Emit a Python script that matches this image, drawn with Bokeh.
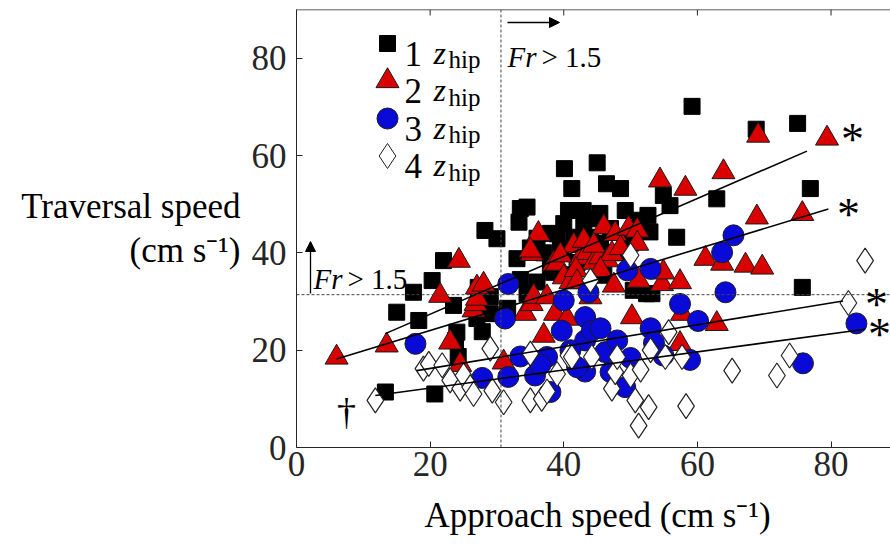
from bokeh.plotting import figure
from bokeh.models import (Range1d, LinearAxis, FixedTicker, Label, Arrow, NormalHead, Span, Title)
from bokeh.embed import file_html
from bokeh.resources import INLINE

# ---------------- data ----------------
black_x = [13.3, 20.7, 15.0, 17.5, 18.3, 20.3, 22.0, 23.5, 24.0, 23.8, 24.2, 27.0, 27.8, 27.2, 29.0,
           29.0, 31.6, 28.2, 30.0, 33.0, 33.5, 34.5, 33.3, 33.5, 34.5, 36.0, 37.0, 38.0, 39.0, 39.5,
           40.1, 41.2, 40.7, 41.5, 42.9, 43.0, 44.0, 45.0, 45.4, 46.4, 46.0, 47.0, 48.5, 49.2, 48.0,
           50.4, 51.4, 52.6, 52.9, 53.2, 54.9, 55.9, 56.9, 59.2, 62.9, 68.8, 75.0, 76.9, 75.7, 36.0,
           38.0, 42.0, 44.0, 35.0, 40.0, 38.5, 41.0, 44.0, 45.5, 50.0, 52.4]
black_y = [11.4, 11.0, 27.8, 31.9, 26.1, 34.3, 38.4, 29.2, 23.7, 22.0, 18.7, 26.5, 23.8, 32.9, 31.0,
           27.5, 28.6, 44.6, 42.9, 38.8, 34.5, 31.6, 46.3, 49.1, 49.4, 43.0, 40.0, 44.0, 43.9, 41.0,
           57.3, 53.2, 48.7, 43.2, 48.7, 46.0, 43.2, 58.5, 48.1, 54.2, 35.4, 45.0, 53.2, 48.7, 40.0,
           32.3, 46.7, 47.7, 44.3, 31.6, 51.8, 49.7, 43.2, 70.1, 51.1, 65.4, 66.6, 53.2, 32.9, 34.0,
           37.0, 38.0, 40.0, 41.0, 46.0, 36.0, 35.5, 47.0, 42.0, 42.0, 31.6]

red_x = [6.0, 13.5, 21.5, 23.0, 24.3, 24.5, 26.5, 26.8, 27.0, 27.0, 28.0, 31.0, 34.2, 35.2, 35.5,
         35.2, 36.2, 35.0, 37.0, 37.5, 38.5, 38.7, 39.0, 40.0, 40.5, 41.0, 41.5, 42.5, 43.5, 44.0,
         44.5, 45.4, 46.0, 46.5, 47.2, 47.5, 47.7, 48.5, 49.7, 50.2, 51.0, 51.0, 51.2, 54.4, 54.7,
         54.9, 57.4, 57.4, 57.7, 58.2, 61.2, 62.9, 63.7, 63.9, 67.2, 68.9, 69.1, 69.7, 75.7, 79.4,
         41.8, 43.0, 44.5, 39.5, 42.0, 45.5]
red_y = [18.5, 21.0, 31.2, 21.6, 38.4, 17.0, 28.2, 29.5, 30.6, 32.9, 33.5, 17.5, 27.5, 29.5, 31.0,
         39.8, 43.9, 40.5, 23.0, 30.9, 37.8, 27.5, 37.8, 35.0, 26.5, 34.0, 41.5, 39.0, 40.0, 30.9,
         38.0, 39.1, 45.3, 38.5, 39.8, 33.3, 43.9, 41.0, 45.0, 26.8, 44.6, 41.9, 34.3, 54.9, 33.6,
         36.0, 34.0, 21.3, 27.5, 53.2, 38.8, 25.4, 37.8, 56.6, 37.4, 47.3, 64.1, 37.0, 48.0, 63.5,
         36.5, 42.5, 41.5, 39.5, 34.0, 36.5]

blue_x = [17.8, 27.8, 31.7, 31.7, 31.2, 33.5, 35.7, 37.5, 38.0, 39.7, 40.0, 43.2, 43.7, 43.2, 44.2,
          43.2, 46.2, 48.0, 49.2, 49.5, 50.0, 53.0, 53.0, 53.5, 54.9, 57.4, 58.9, 60.1, 63.7, 65.4,
          64.2, 75.8, 83.8, 36.5, 41.0, 42.0, 45.5, 47.0]
blue_y = [21.3, 14.3, 14.5, 33.6, 26.5, 18.7, 14.8, 18.6, 11.4, 24.0, 30.2, 26.8, 31.9, 22.0, 24.0,
          15.6, 19.6, 22.0, 12.4, 36.4, 18.4, 36.7, 24.5, 21.5, 18.9, 29.5, 18.0, 26.0, 40.1, 43.6,
          31.9, 17.3, 25.5, 17.0, 20.0, 16.5, 24.5, 15.5]

diam_x = [11.8, 19.0, 19.8, 21.8, 23.0, 24.5, 25.0, 26.0, 26.5, 29.0, 29.3, 31.0, 35.0, 35.0, 36.7,
          39.0, 40.7, 41.2, 44.0, 44.2, 47.2, 47.7, 48.0, 50.0, 50.0, 50.7, 51.5, 51.2, 52.7, 55.2,
          55.7, 57.7, 58.3, 65.2, 71.9, 73.8, 82.6, 85.1, 37.5, 53.0]
diam_y = [9.7, 16.2, 17.2, 16.9, 13.8, 12.1, 14.8, 12.4, 11.0, 20.3, 11.7, 9.3, 19.3, 9.7, 10.0,
          15.1, 18.9, 18.6, 34.3, 18.6, 12.1, 15.5, 18.6, 14.8, 39.5, 9.7, 16.0, 4.5, 8.3, 18.6,
          23.7, 18.6, 8.5, 15.8, 14.8, 18.9, 29.7, 38.4, 11.5, 20.0]

# regression lines (order: 1, 2, 3, 4 z_hip)
fit_x0 = [13.3, 6.0, 18.0, 11.8]
fit_y0 = [23.4, 18.2, 15.8, 10.7]
fit_x1 = [76.4, 79.6, 81.8, 85.1]
fit_y1 = [60.9, 49.0, 30.1, 24.3]

fr_speed_x = 30.6   # Fr > 1.5 threshold on approach speed
fr_speed_y = 31.4   # Fr > 1.5 threshold on traversal speed

x_ticks = [0, 20, 40, 60, 80]
y_ticks = [0, 20, 40, 60, 80]
legend_labels = ["1", "2", "3", "4"]
x_title = "Approach speed (cm s\u207b\u00b9)"
y_title = "Traversal speed\n(cm s\u207b\u00b9)"

# ---------------- layout ----------------
FONT = "Liberation Serif"
AX = "#262626"
L, T, FW, FH = 296, 9, 594, 438
XMAX, YMAX = 88.9, 90.0


def px2x(px):
    return (px - L) * XMAX / FW


def py2y(py):
    return (T + FH - py) * YMAX / FH


p = figure(frame_width=FW, frame_height=FH, x_range=Range1d(0, XMAX), y_range=Range1d(0, YMAX),
           output_backend="svg", toolbar_location=None, min_border_left=L, min_border_right=0,
           min_border_top=T, min_border_bottom=548 - T - FH, x_axis_location=None,
           y_axis_location=None, background_fill_color="white", border_fill_color="white")
p.outline_line_color = None
p.xgrid.visible = False
p.ygrid.visible = False


def style_axis(ax, ticks):
    ax.ticker = FixedTicker(ticks=ticks)
    ax.axis_line_color = AX
    ax.axis_line_width = 1
    ax.major_tick_line_color = AX
    ax.major_tick_in = 6
    ax.major_tick_out = 0
    ax.minor_tick_line_color = None
    ax.major_label_text_font = FONT
    ax.major_label_text_color = AX
    ax.major_label_text_font_size = "35px"


xa = LinearAxis()
style_axis(xa, x_ticks)
xa.major_label_standoff = 4
p.add_layout(xa, "below")
p.add_layout(Title(text=x_title, align="left", offset=128, text_font=FONT,
                   text_font_size="35px", text_font_style="normal", text_color="black",
                   standoff=30), "below")

ya = LinearAxis()
style_axis(ya, y_ticks)
ya.major_label_standoff = 10
ya.axis_label = y_title
ya.axis_label_orientation = "horizontal"
ya.axis_label_text_font = FONT
ya.axis_label_text_font_size = "35px"
ya.axis_label_text_font_style = "normal"
ya.axis_label_text_color = "black"
ya.axis_label_text_line_height = 1.15
ya.axis_label_standoff = 8
p.add_layout(ya, "left")

# top border with inward ticks (box on)
p.add_layout(Span(location=YMAX, dimension="width", line_color=AX, line_width=1.5))
p.segment(x0=x_ticks, y0=[YMAX] * len(x_ticks), x1=x_ticks,
          y1=[YMAX - 6 * YMAX / FH] * len(x_ticks), line_color=AX, line_width=1)

# threshold lines
p.add_layout(Span(location=fr_speed_x, dimension="height", line_color="#444444",
                  line_dash="3 2", line_width=1))
p.add_layout(Span(location=fr_speed_y, dimension="width", line_color="#444444",
                  line_dash="3 2", line_width=1))

# scatter series
p.scatter(black_x, black_y, marker="square", size=16, fill_color="black", line_color="black")
p.scatter(red_x, red_y, marker="triangle", size=23, fill_color="#d90000", line_color="#1a1a1a",
          line_width=1)
p.scatter(blue_x, blue_y, marker="circle", size=21, fill_color="#0a0ad8", line_color="#1a1a1a",
          line_width=1)
p.scatter(diam_x, diam_y, marker="diamond", size=25, fill_color="white", line_color="#222222",
          line_width=1.2)

# regression lines
p.segment(x0=fit_x0, y0=fit_y0, x1=fit_x1, y1=fit_y1, line_color="black", line_width=1.6)

# asterisks beside the fitted lines
for ax_px, ay_px in [(852, 133), (848, 208), (876, 298), (879, 328)]:
    p.add_layout(Label(x=px2x(ax_px), y=py2y(ay_px + 6), text="*", text_font=FONT,
                       text_font_size="46px", text_align="center", text_baseline="middle",
                       text_color="black"))

# dagger
p.add_layout(Label(x=px2x(346), y=py2y(411), text="\u2020", text_font=FONT,
                   text_font_size="38px", text_align="center", text_baseline="alphabetic",
                   text_color="black"))

# Fr annotations
p.add_layout(Arrow(x_start=px2x(507), y_start=py2y(22), x_end=px2x(559), y_end=py2y(22),
                   line_width=1.3, line_color="black",
                   end=NormalHead(size=10, fill_color="black", line_color="black")))
p.add_layout(Arrow(x_start=px2x(310), y_start=py2y(293), x_end=px2x(310), y_end=py2y(241),
                   line_width=1.3, line_color="black",
                   end=NormalHead(size=10, fill_color="black", line_color="black")))
for tx, ty in [(507, 56), (313, 278)]:
    p.add_layout(Label(x=px2x(tx), y=py2y(ty), text="Fr", text_font=FONT, text_font_size="29px",
                       text_font_style="italic", text_baseline="alphabetic", text_color="black"))
    p.add_layout(Label(x=px2x(tx + 34), y=py2y(ty), text="> 1.5", text_font=FONT,
                       text_font_size="29px", text_baseline="alphabetic", text_color="black"))

# legend (drawn by hand so the subscript can be shown)
leg_markers = ["square", "triangle", "circle", "diamond"]
leg_fill = ["black", "#d90000", "#0a0ad8", "white"]
leg_size = [16, 23, 21, 25]
leg_line = ["black", "#1a1a1a", "#1a1a1a", "#222222"]
for i, lab in enumerate(legend_labels):
    base = 53 + 37.5 * i
    p.scatter([px2x(387)], [py2y(base - 10)], marker=leg_markers[i], size=leg_size[i],
              fill_color=leg_fill[i], line_color=leg_line[i], line_width=1)
    p.add_layout(Label(x=px2x(404), y=py2y(base), text=lab, text_font=FONT, text_font_size="35px",
                       text_baseline="alphabetic", text_color="black"))
    p.add_layout(Label(x=px2x(433), y=py2y(base - 1), text="z", text_font=FONT,
                       text_font_size="32px", text_font_style="italic",
                       text_baseline="alphabetic", text_color="black"))
    p.add_layout(Label(x=px2x(448), y=py2y(base + 6), text="hip", text_font=FONT,
                       text_font_size="25px", text_baseline="alphabetic", text_color="black"))

open("out.html", "w").write(file_html(p, INLINE))
